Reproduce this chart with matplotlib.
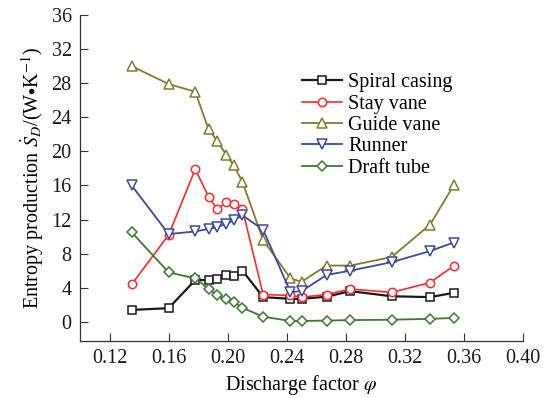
import matplotlib
matplotlib.use("Agg")
import matplotlib.pyplot as plt

plt.rcParams["font.family"] = ["Liberation Serif", "DejaVu Serif"]
plt.rcParams["mathtext.fontset"] = "stix"

# discharge factor and entropy production of each flow passage component
phi = [0.135, 0.160, 0.178, 0.187, 0.193, 0.199, 0.204, 0.210,
       0.224, 0.2425, 0.250, 0.267, 0.283, 0.311, 0.337, 0.353]

spiral_casing = [1.4, 1.6, 4.9, 4.9, 5.05, 5.55, 5.4, 6.0,
                 2.9, 2.7, 2.7, 2.95, 3.6, 3.0, 2.9, 3.4]
stay_vane = [4.4, 10.2, 17.9, 14.7, 13.2, 14.05, 13.8, 13.2,
             3.2, 3.1, 2.9, 3.2, 3.85, 3.45, 4.6, 6.55]
guide_vane = [30.0, 27.9, 27.0, 22.6, 21.2, 19.6, 18.4, 16.4,
              9.6, 5.1, 4.7, 6.6, 6.6, 7.6, 11.4, 16.0]
runner = [16.0, 10.3, 10.6, 10.9, 11.1, 11.5, 11.9, 12.5,
          10.8, 3.5, 3.6, 5.5, 6.0, 7.0, 8.3, 9.3]
draft_tube = [10.5, 5.8, 5.1, 3.9, 3.1, 2.65, 2.3, 1.65,
              0.6, 0.1, 0.1, 0.15, 0.2, 0.25, 0.35, 0.45]

series = [
    ("Spiral casing", spiral_casing, "#1a1a1a", "s", 5.2, 1.6),
    ("Stay vane", stay_vane, "#ff2a2a", "o", 6.0, 1.2),
    ("Guide vane", guide_vane, "#857a30", "^", 7.2, 1.3),
    ("Runner", runner, "#3c4a9c", "v", 7.2, 1.3),
    ("Draft tube", draft_tube, "#3d7a2e", "D", 4.8, 1.3),
]

fig = plt.figure(figsize=(5.5, 3.98), dpi=100)
ax = fig.add_axes([0.1455, 0.1432, 0.8055, 0.8191])

for label, values, color, marker, ms, lw in series:
    ax.plot(phi, values, color=color, lw=lw, marker=marker, ms=ms,
            markerfacecolor="white", markeredgecolor=color,
            markeredgewidth=1.1, label=label)

ax.set_xlim(0.10, 0.40)
ax.set_ylim(-2.25, 36)
ax.set_xticks([0.12, 0.16, 0.20, 0.24, 0.28, 0.32, 0.36, 0.40])
ax.set_xticklabels(["0.12", "0.16", "0.20", "0.24", "0.28", "0.32", "0.36", "0.40"])
ax.set_yticks(range(0, 37, 4))

for side in ["top", "right"]:
    ax.spines[side].set_visible(False)
for side in ["left", "bottom"]:
    ax.spines[side].set_linewidth(0.9)
    ax.spines[side].set_color("#333333")

ax.tick_params(direction="in", length=5.5, width=0.8, labelsize=14.5,
               colors="#333333", labelcolor="#1a1a1a")
ax.tick_params(axis="y", pad=6)
ax.tick_params(axis="x", pad=6)

ax.set_xlabel(r"Discharge factor $\varphi$", fontsize=14.5, labelpad=3)
ax.set_ylabel(r"Entropy production $\dot{S}_D$/(W$\bullet$K$^{-1}$)",
              fontsize=14.5, labelpad=4)

ax.legend(loc="upper left", bbox_to_anchor=(0.483, 0.846), frameon=False,
          fontsize=14.5, handlelength=2.0, handletextpad=0.3,
          labelspacing=0.11, borderaxespad=0)

fig.savefig("out.png", dpi=100)
